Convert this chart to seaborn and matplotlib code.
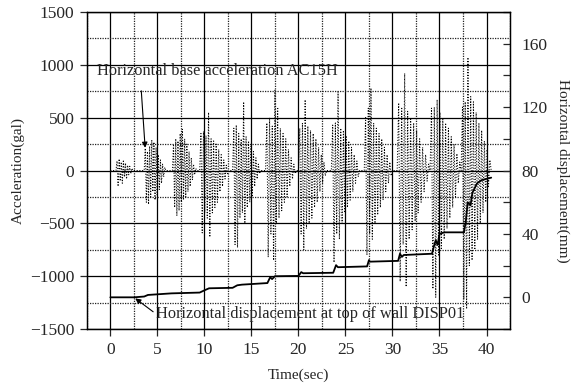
import numpy as np
import pandas as pd
import matplotlib
matplotlib.use("Agg")
import matplotlib.pyplot as plt
import seaborn as sns
from matplotlib.ticker import MultipleLocator

sns.set_style("ticks")
plt.rcParams['font.family'] = ['Liberation Serif', 'DejaVu Serif']
plt.rcParams['axes.unicode_minus'] = True

# acceleration bursts (gal): start time, end time, successive peaks
burst_start = [0.6, 3.6, 6.6, 9.5, 13.0, 16.5, 20.0, 23.5, 27.0, 30.5, 34.0, 37.3]
burst_end = [2.4, 5.9, 9.2, 12.6, 16.0, 19.8, 23.0, 26.5, 30.0, 34.0, 37.3, 40.5]
burst_peaks = [
    [0, 90, -150, 110, -100, 80, -120, 100, -60, 70, -80, 50, -40, 40, -30, 20, 0],
    [0, 210, -300, 180, -320, 230, -250, 290, -200, 270, -280, 220, -230, 150, -180, 100, -120, 60, -60, 30, 0],
    [0, 250, -350, 300, -430, 280, -380, 350, -300, 390, -280, 300, -250, 250, -200, 180, -150, 120, -90, 60, -40, 20, 0],
    [0, 350, -590, 370, -400, 330, -450, 550, -630, 300, -400, 280, -350, 250, -300, 200, -200, 150, -150, 100, -80, 50, -30, 0],
    [0, 400, -700, 430, -730, 350, -450, 300, -400, 650, -500, 320, -350, 280, -300, 230, -250, 180, -150, 120, -80, 60, -30, 0],
    [0, 450, -820, 500, -600, 420, -850, 760, -500, 600, -450, 400, -380, 350, -300, 300, -250, 200, -150, 120, -80, 60, -30, 0],
    [0, 400, -600, 450, -750, 670, -550, 420, -500, 380, -450, 350, -350, 300, -300, 220, -200, 150, -120, 80, -50, 0],
    [0, 430, -870, 450, -600, 745, -650, 400, -500, 380, -400, 330, -350, 280, -280, 220, -200, 150, -120, 90, -60, 0],
    [0, 500, -800, 590, -600, 780, -650, 450, -500, 400, -420, 350, -350, 300, -280, 220, -200, 150, -120, 80, -50, 0],
    [0, 640, -1050, 600, -700, 920, -1100, 560, -650, 500, -560, 450, -480, 380, -400, 300, -300, 220, -200, 150, -100, 60, 0],
    [0, 590, -1120, 600, -1200, 670, -800, 550, -750, 500, -650, 450, -550, 400, -450, 320, -350, 250, -250, 160, -120, 80, 0],
    [0, 600, -1220, 650, -1310, 1070, -900, 700, -850, 650, -750, 550, -650, 450, -500, 380, -400, 280, -300, 200, -150, 100, 0],
]

# displacement at top of wall (mm)
disp_time = [0, 2.5, 3.6, 4.0, 6.5, 9.5, 10.0, 10.5, 13.0, 13.5, 14.0, 16.7, 17.0, 17.2, 17.5,
             20.0, 20.3, 20.5, 23.7, 24.0, 24.2, 27.3, 27.5, 27.6, 30.6, 30.8, 31.0, 31.2,
             34.2, 34.4, 34.6, 34.8, 35.0, 35.5, 37.6, 37.8, 38.0, 38.3, 38.5, 39.0, 39.5, 40.5]
disp_mm = [0, 0, 0.5, 1.5, 2.5, 3.0, 4.4, 5.7, 6.0, 7.6, 8.0, 9.0, 12.7, 11.5, 13.3,
           13.5, 15.9, 15.2, 15.5, 20.3, 19.0, 19.5, 23.5, 22.5, 23.0, 27.5, 25.5, 26.7,
           27.5, 32.0, 36.0, 33.0, 40.0, 41.0, 41.0, 48.0, 60.0, 58.0, 66.0, 72.0, 74.0, 75.5]

acc_t, acc_v = [-0.0], [0.0]
for t0, t1, pk in zip(burst_start, burst_end, burst_peaks):
    acc_t.extend(np.linspace(t0, t1, len(pk)))
    acc_v.extend(pk)
acc_t.append(40.5)
acc_v.append(0)
acc = pd.DataFrame({'t': acc_t, 'a': acc_v})
disp = pd.DataFrame({'t': disp_time, 'd': disp_mm})

fig = plt.figure(figsize=(5.75, 3.88), dpi=100)
ax = fig.add_axes([0.151, 0.152, 0.736, 0.817])

ax.set_xlim(-2.5, 42.5)
ax.set_ylim(-1500, 1500)
ax.xaxis.set_major_locator(MultipleLocator(5))
ax.xaxis.set_minor_locator(MultipleLocator(2.5))
ax.yaxis.set_major_locator(MultipleLocator(500))
ax.yaxis.set_minor_locator(MultipleLocator(250))
ax.grid(which='major', color='black', lw=0.9, ls='-')
ax.grid(which='minor', color='#222222', lw=0.9, ls=(0, (1, 1)))
ax.tick_params(which='major', direction='out', length=5, width=0.9, labelsize=12.5, pad=4)
ax.tick_params(which='minor', length=0)
ax.set_axisbelow(True)

sns.lineplot(data=acc, x='t', y='a', ax=ax, estimator=None, sort=False,
             color='black', lw=0.75, linestyle=':')
ax.set_xlabel('Time(sec)', fontsize=11, labelpad=8)
ax.set_ylabel('Acceleration(gal)', fontsize=11, labelpad=4)

ax2 = ax.twinx()
ax2.set_ylim(-20, 180)
ax2.yaxis.set_major_locator(MultipleLocator(40))
ax2.yaxis.set_minor_locator(MultipleLocator(20))
ax2.tick_params(which='both', direction='in', length=5, width=0.9, labelsize=12.5, pad=8)
sns.lineplot(data=disp, x='t', y='d', ax=ax2, estimator=None, sort=False,
             color='black', lw=1.3)
ax2.set_ylabel('Horizontal displacement(mm)', fontsize=11, rotation=270, labelpad=16)
ax2.grid(False)

for a_ in (ax, ax2):
    for s in a_.spines.values():
        s.set_visible(True)
        s.set_color('black')
        s.set_linewidth(0.9)

ax.annotate('Horizontal base acceleration AC15H', xy=(3.7, 215), xytext=(-1.4, 940),
            fontsize=11.8, va='center', ha='left',
            arrowprops=dict(arrowstyle='-|>', color='black', lw=0.8,
                            shrinkA=6, shrinkB=0, mutation_scale=8,
                            relpos=(0.18, 0.0)))
ax.annotate('Horizontal displacement at top of wall DISP01', xy=(2.65, -1210), xytext=(4.9, -1360),
            fontsize=11.8, va='center', ha='left',
            arrowprops=dict(arrowstyle='-|>', color='black', lw=0.8,
                            shrinkA=0, shrinkB=0, mutation_scale=8,
                            relpos=(0.0, 0.5)))

fig.savefig('out.png', dpi=100)
